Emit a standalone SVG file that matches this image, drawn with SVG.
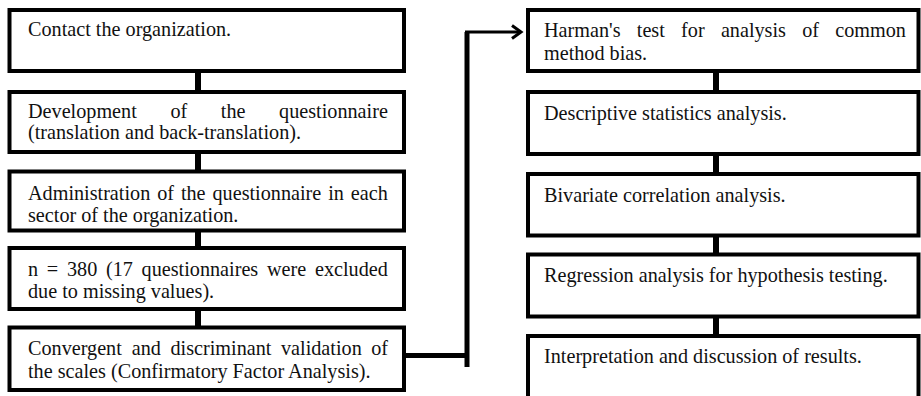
<svg xmlns="http://www.w3.org/2000/svg" width="921" height="396" viewBox="0 0 921 396">
<defs>
<style>
.box{fill:#fff;stroke:#000;stroke-width:4}
.rbox{fill:#fff;stroke:#000;stroke-width:4}
.stub{stroke:#000;stroke-width:6;fill:none}
.t{font-family:"Liberation Serif","Times New Roman",serif;font-size:20.2px;fill:#111}
</style>
<marker id="arr" markerWidth="14" markerHeight="16" refX="11" refY="8" orient="auto" markerUnits="userSpaceOnUse">
<path d="M2,1.5 L11,8 L2,14.5" fill="none" stroke="#000" stroke-width="3"/>
</marker>
</defs>
<rect width="921" height="396" fill="#fff"/>
<g id="connectors">
<line class="stub" x1="198" y1="71" x2="198" y2="92"/>
<line class="stub" x1="198" y1="152" x2="198" y2="171.5"/>
<line class="stub" x1="198" y1="230.5" x2="198" y2="248"/>
<line class="stub" x1="198" y1="309" x2="198" y2="327.5"/>
<line class="stub" x1="716" y1="71" x2="716" y2="92"/>
<line class="stub" x1="716" y1="154" x2="716" y2="174"/>
<line class="stub" x1="716" y1="235.5" x2="716" y2="254.5"/>
<line class="stub" x1="716" y1="316.5" x2="716" y2="336"/>
<path d="M404,355.5 H467" stroke="#000" stroke-width="5" fill="none"/>
<path d="M467,367 V32" stroke="#000" stroke-width="5" fill="none"/>
<path d="M465,32 H521" stroke="#000" stroke-width="3" fill="none" marker-end="url(#arr)"/>
</g>
<g id="n1"><rect class="box" x="9.5" y="10" width="394.5" height="61"/>
<text class="t" x="28" y="36">Contact the organization.</text></g>
<g id="n2"><rect class="box" x="9.5" y="92" width="394.5" height="60"/>
<text class="t" y="118"><tspan x="28">Development</tspan><tspan x="170.4">of</tspan><tspan x="220.8">the</tspan><tspan x="279.1">questionnaire</tspan></text>
<text class="t" x="28" y="139">(translation and back-translation).</text></g>
<g id="n3"><rect class="box" x="9.5" y="171.5" width="394.5" height="59"/>
<text class="t" y="200"><tspan x="28">Administration</tspan><tspan x="157.2">of</tspan><tspan x="180.9">the</tspan><tspan x="212.5">questionnaire</tspan><tspan x="328.2">in</tspan><tspan x="350.8">each</tspan></text>
<text class="t" x="28" y="222">sector of the organization.</text></g>
<g id="n4"><rect class="box" x="9.5" y="248" width="394.5" height="61"/>
<text class="t" y="276"><tspan x="28">n</tspan><tspan x="46.8">=</tspan><tspan x="67">380</tspan><tspan x="106">(17</tspan><tspan x="141.6">questionnaires</tspan><tspan x="267">were</tspan><tspan x="315">excluded</tspan></text>
<text class="t" x="28" y="298">due to missing values).</text></g>
<g id="n5"><rect class="box" x="9.5" y="327.5" width="394.5" height="62.5"/>
<text class="t" y="355"><tspan x="28">Convergent</tspan><tspan x="131.8">and</tspan><tspan x="170.5">discriminant</tspan><tspan x="281">validation</tspan><tspan x="371.2">of</tspan></text>
<text class="t" x="28" y="378">the scales (Confirmatory Factor Analysis).</text></g>
<g id="r1"><rect class="rbox" x="528" y="10" width="390.5" height="61"/>
<text class="t" y="37"><tspan x="544">Harman's</tspan><tspan x="636.8">test</tspan><tspan x="681.1">for</tspan><tspan x="720.9">analysis</tspan><tspan x="802.2">of</tspan><tspan x="835.2">common</tspan></text>
<text class="t" x="544" y="60">method bias.</text></g>
<g id="r2"><rect class="rbox" x="528" y="92" width="390.5" height="62"/>
<text class="t" x="544" y="120">Descriptive statistics analysis.</text></g>
<g id="r3"><rect class="rbox" x="528" y="174" width="390.5" height="61.5"/>
<text class="t" x="544" y="202">Bivariate correlation analysis.</text></g>
<g id="r4"><rect class="rbox" x="528" y="254.5" width="390.5" height="62"/>
<text class="t" x="544" y="282">Regression analysis for hypothesis testing.</text></g>
<g id="r5"><rect class="rbox" x="528" y="336" width="390.5" height="80"/>
<text class="t" x="544" y="363">Interpretation and discussion of results.</text></g>
</svg>
